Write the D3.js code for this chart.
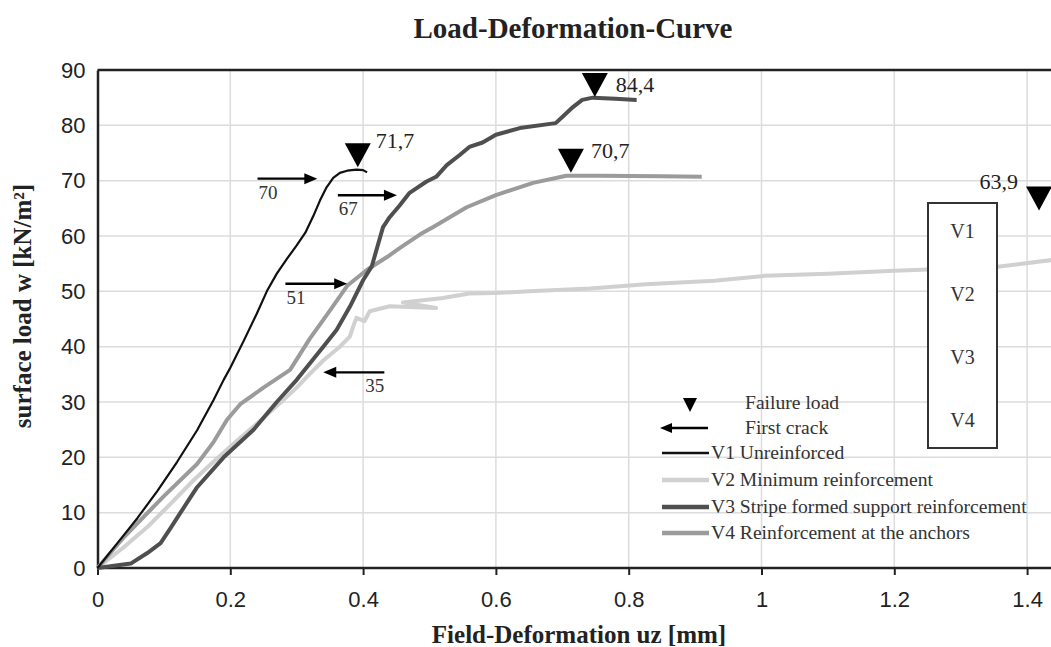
<!DOCTYPE html>
<html><head><meta charset="utf-8">
<script src="https://cdn.jsdelivr.net/npm/d3@7"></script>
<style>body{margin:0;background:#fff}svg{display:block}</style>
</head><body><svg id="c" width="1051" height="647"></svg>
<script>
// ---------- data ----------
const xTicks = [0, 0.2, 0.4, 0.6, 0.8, 1, 1.2, 1.4];
const xTickLabels = ["0", "0.2", "0.4", "0.6", "0.8", "1", "1.2", "1.4"];
const yTicks = [0, 10, 20, 30, 40, 50, 60, 70, 80, 90];
const seriesNames = ["V1 Unreinforced", "V2 Minimum reinforcement", "V3 Stripe formed support reinforcement", "V4 Reinforcement at the anchors"];
const boxLabels = ["V1", "V2", "V3", "V4"];

const v1X = [0, 0.03, 0.06, 0.09, 0.12, 0.15, 0.175, 0.19, 0.2, 0.22, 0.24, 0.255, 0.27, 0.286, 0.3, 0.313, 0.325, 0.335, 0.345, 0.355, 0.365, 0.376, 0.39, 0.4, 0.406];
const v1Y = [0, 4.5, 9, 13.9, 19.2, 24.9, 30.4, 34, 36.2, 41, 46, 50, 53.2, 56, 58.3, 60.6, 63.6, 66.4, 68.8, 70.5, 71.4, 71.8, 72, 71.9, 71.5];

const v2X = [0, 0.04, 0.075, 0.11, 0.145, 0.18, 0.21, 0.245, 0.275, 0.3, 0.315, 0.34, 0.365, 0.38, 0.385, 0.39, 0.402, 0.41, 0.44, 0.51, 0.46, 0.52, 0.56, 0.6, 0.65, 0.742, 0.826, 0.929, 1.005, 1.1, 1.2, 1.353, 1.44];
const v2Y = [0, 3.8, 7.4, 11.6, 15.9, 19.8, 23, 26.6, 29.8, 32.6, 34.5, 37.5, 40, 41.8, 43.6, 45.2, 44.6, 46.4, 47.3, 47.0, 48.0, 48.8, 49.6, 49.7, 50.0, 50.5, 51.3, 51.9, 52.8, 53.2, 53.7, 54.4, 55.7];

const v3X = [0, 0.05, 0.075, 0.095, 0.11, 0.125, 0.15, 0.19, 0.235, 0.27, 0.3, 0.34, 0.36, 0.38, 0.4, 0.413, 0.43, 0.44, 0.455, 0.47, 0.495, 0.51, 0.526, 0.545, 0.56, 0.58, 0.6, 0.636, 0.69, 0.7, 0.716, 0.73, 0.746, 0.78, 0.812];
const v3Y = [0, 0.8, 2.7, 4.5, 7.2, 10, 14.6, 20, 25, 30, 34, 40, 43, 47.2, 52, 54.5, 61.6, 63.4, 65.5, 67.8, 69.8, 70.7, 72.8, 74.6, 76.1, 76.9, 78.3, 79.5, 80.4, 81.5, 83.3, 84.6, 85, 84.8, 84.6];

const v4X = [0, 0.04, 0.1, 0.15, 0.175, 0.195, 0.215, 0.25, 0.29, 0.32, 0.35, 0.376, 0.406, 0.436, 0.455, 0.486, 0.505, 0.556, 0.6, 0.656, 0.706, 0.756, 0.85, 0.91];
const v4Y = [0, 5.6, 13, 18.8, 22.8, 26.8, 29.6, 32.6, 35.8, 41.5, 46.5, 51, 53.9, 56.2, 57.8, 60.3, 61.6, 65.2, 67.4, 69.6, 70.9, 70.9, 70.8, 70.7];

const failureX = [0.392, 1.418, 0.749, 0.713];
const failureLoad = [71.7, 63.9, 84.4, 70.7];
const failureLabels = ["71,7", "63,9", "84,4", "70,7"];

const crackLoad = [70, 67, 51, 35];
const crackFrom = [0.241, 0.362, 0.283, 0.432];
const crackTo = [0.331, 0.451, 0.376, 0.34];
const crackLabels = ["70", "67", "51", "35"];

// ---------- layout / style ----------
const W = 1051, H = 647;
const X0 = 97.5, PXU = 664;
const colors = ["#111111", "#d0d0d0", "#4f4f4f", "#9b9b9b"];
const widths = [2.2, 4, 4, 4];
const serif = "'Liberation Serif','Times New Roman',serif";
const sans = "'Liberation Sans',Arial,sans-serif";

const svg = d3.select("#c");
const x = d3.scaleLinear().domain([0, 1.44]).range([X0, X0 + PXU * 1.44]);
const y = d3.scaleLinear().domain([0, 90]).range([568, 70]);

// grid
const grid = svg.append("g");
grid.selectAll("line.v").data(xTicks.slice(1)).join("line")
  .attr("x1", d => x(d)).attr("x2", d => x(d)).attr("y1", y(90)).attr("y2", y(0))
  .attr("stroke", "#dcdcdc").attr("stroke-width", 1.5);
grid.selectAll("line.h").data(yTicks.slice(1, -1)).join("line")
  .attr("x1", x(0)).attr("x2", W).attr("y1", d => y(d)).attr("y2", d => y(d))
  .attr("stroke", "#dcdcdc").attr("stroke-width", 1.5);

// top border
svg.append("line").attr("x1", x(0)).attr("x2", W).attr("y1", y(90)).attr("y2", y(90))
  .attr("stroke", "#222").attr("stroke-width", 2.5);

// axes
const xAxis = d3.axisBottom(x).tickValues(xTicks).tickFormat((d, i) => xTickLabels[i]).tickSize(7).tickSizeOuter(0);
const gx = svg.append("g").attr("transform", `translate(0,${y(0)})`).call(xAxis);
gx.select(".domain").attr("stroke", "#222").attr("stroke-width", 2.5).attr("d", `M${x(0)},0H${W}`);
gx.selectAll(".tick line").attr("stroke", "#222").attr("stroke-width", 2);
gx.selectAll(".tick text").attr("font-family", sans).attr("font-size", 22).attr("fill", "#222").attr("dy", "1.3em");

const yAxis = d3.axisLeft(y).tickValues(yTicks).tickSize(0).tickPadding(12);
const gy = svg.append("g").attr("transform", `translate(${x(0)},0)`).call(yAxis);
gy.select(".domain").attr("stroke", "#222").attr("stroke-width", 2.5);
gy.selectAll(".tick text").attr("font-family", sans).attr("font-size", 22).attr("fill", "#222");

// series
const line = d3.line().x(d => x(d[0])).y(d => y(d[1]));
const series = [[v1X, v1Y], [v2X, v2Y], [v3X, v3Y], [v4X, v4Y]];
const drawOrder = [1, 3, 2, 0];
drawOrder.forEach(i => {
  const pts = series[i][0].map((v, k) => [v, series[i][1][k]]);
  svg.append("path").datum(pts).attr("d", line).attr("fill", "none")
    .attr("stroke", colors[i]).attr("stroke-width", widths[i]).attr("stroke-linejoin", "round");
});

// failure triangles
const triW = 26, triH = 24;
const failDx = [5, -8, 8, 7];
const failDy = [-19, -21, -5, -15];
const failAnchor = ["start", "end", "start", "start"];
failureX.forEach((fx, i) => {
  const tx = x(fx), ty = y(failureLoad[i]) - 4;
  svg.append("path").attr("d", `M${tx},${ty}L${tx - triW / 2},${ty - triH}L${tx + triW / 2},${ty - triH}Z`).attr("fill", "#000");
  const lx = failAnchor[i] === "start" ? tx + triW / 2 + failDx[i] : tx - triW / 2 + failDx[i];
  svg.append("text").attr("x", lx).attr("y", ty + failDy[i]).attr("text-anchor", failAnchor[i])
    .attr("font-family", serif).attr("font-size", 22).attr("fill", "#222").text(failureLabels[i]);
});

// arrows
function arrow(g, x1, x2, yy, hl, hw, sw) {
  const dir = Math.sign(x2 - x1);
  g.append("line").attr("x1", x1).attr("x2", x2 - dir * hl * 0.8).attr("y1", yy).attr("y2", yy)
    .attr("stroke", "#000").attr("stroke-width", sw);
  g.append("path").attr("d", `M${x2},${yy}L${x2 - dir * hl},${yy - hw}L${x2 - dir * hl},${yy + hw}Z`).attr("fill", "#000");
}
crackLoad.forEach((c, i) => {
  const yy = y(c) - 2;
  const x1 = x(crackFrom[i]), x2 = x(crackTo[i]);
  arrow(svg, x1, x2, yy, 13, 5.5, 2.4);
  const rightward = x2 > x1;
  svg.append("text").attr("x", rightward ? x1 + 1 : x1).attr("y", yy + 20)
    .attr("text-anchor", rightward ? "start" : "end")
    .attr("font-family", serif).attr("font-size", 19).attr("fill", "#333").text(crackLabels[i]);
});

// legend
const lg = svg.append("g");
const legFont = 19.6;
lg.append("path").attr("d", "M690,412L683,398L697,398Z").attr("fill", "#000");
lg.append("text").attr("x", 745).attr("y", 409).attr("font-family", serif).attr("font-size", legFont).attr("fill", "#333").text("Failure load");
arrow(lg, 708, 660, 428, 12, 5, 2.4);
lg.append("text").attr("x", 745).attr("y", 434).attr("font-family", serif).attr("font-size", legFont).attr("fill", "#333").text("First crack");
const legY = [453, 480, 507, 533];
seriesNames.forEach((n, i) => {
  lg.append("line").attr("x1", 662).attr("x2", 709).attr("y1", legY[i]).attr("y2", legY[i])
    .attr("stroke", colors[i]).attr("stroke-width", widths[i] + 0.5);
  lg.append("text").attr("x", 711).attr("y", legY[i] + 6).attr("font-family", serif).attr("font-size", legFont).attr("fill", "#333").text(n);
});

// V box
const bx = svg.append("g");
bx.append("rect").attr("x", 928).attr("y", 203).attr("width", 69).attr("height", 245)
  .attr("fill", "#fff").attr("stroke", "#333").attr("stroke-width", 2);
boxLabels.forEach((b, i) => {
  bx.append("text").attr("x", 962.5).attr("y", 238 + i * 63).attr("text-anchor", "middle")
    .attr("font-family", serif).attr("font-size", 20).attr("fill", "#333").text(b);
});

// titles
svg.append("text").attr("x", 573).attr("y", 38).attr("text-anchor", "middle")
  .attr("font-family", serif).attr("font-weight", "bold").attr("font-size", 29).attr("fill", "#222")
  .text("Load-Deformation-Curve");
svg.append("text").attr("x", 579).attr("y", 643).attr("text-anchor", "middle")
  .attr("font-family", serif).attr("font-weight", "bold").attr("font-size", 25).attr("fill", "#222")
  .text("Field-Deformation uz [mm]");
svg.append("text").attr("transform", "translate(31,306) rotate(-90)").attr("text-anchor", "middle")
  .attr("font-family", serif).attr("font-weight", "bold").attr("font-size", 25).attr("fill", "#222")
  .text("surface load w [kN/m²]");
</script>
</body></html>
